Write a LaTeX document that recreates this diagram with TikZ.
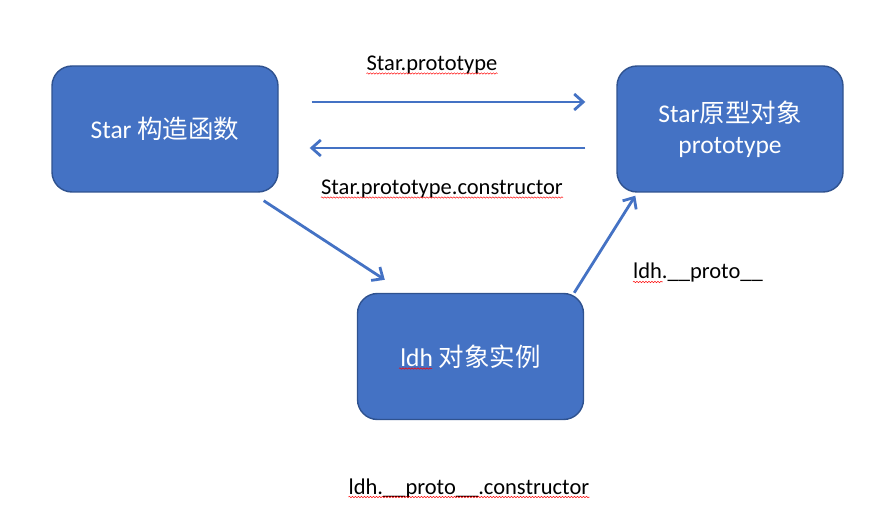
\documentclass[tikz,border=0pt]{standalone}
\usepackage{fontspec}
\setmainfont{Carlito}
\newfontfamily\cjk{Noto Sans CJK SC}
\usetikzlibrary{arrows.meta, positioning, decorations.pathmorphing}

\definecolor{boxblue}{HTML}{4472C4}
\definecolor{boxedge}{HTML}{2F528F}

\begin{document}
\begin{tikzpicture}[
        x=1pt, y=-1pt,
        box/.style={rectangle, rounded corners=20pt, fill=boxblue, draw=boxedge, line width=1.4pt,
            minimum width=226pt, minimum height=126pt, inner sep=0pt, text=white,
            font=\fontsize{25.5}{31}\selectfont, align=center},
        lbl/.style={font=\fontsize{22.5}{26}\selectfont, inner sep=0pt},
        link/.style={-{Straight Barb[length=9pt, width=16pt]}, draw=boxblue, line width=2.8pt},
        squiggle/.style={draw=red, line width=0.5pt, decorate,
            decoration={snake, amplitude=0.7pt, segment length=3pt}}
    ]

    \useasboundingbox (0,0) rectangle (877,518);

    \node[box] (star) at (165,129) {Star {\cjk 构造函数}};
    \node[box] (proto) at (730,129) {Star{\cjk 原型对象}\\prototype};
    \node[box] (inst) at (470.5,356.5) {ldh {\cjk 对象实例}};

    \node[lbl] (toproto) at (432,65) {Star.prototype};
    \node[lbl] (toctor) at (442,189) {Star.prototype.constructor};
    \node[lbl] (dunder) at (698,273) {ldh.\_\_proto\_\_};
    \node[lbl] (instctor) at (469,488) {ldh.\_\_proto\_\_.constructor};

    % arrows between the boxes
    \draw[link, shorten <=33pt, shorten >=31pt] ([yshift=27pt]star.east) -- ([yshift=27pt]proto.west);
    \draw[link, shorten <=31pt, shorten >=31pt] ([yshift=-19pt]proto.west) -- ([yshift=-19pt]star.east);
    \draw[link] ([xshift=-15pt, yshift=-8pt]star.south east) -- ([xshift=28pt, yshift=13pt]inst.north west);
    \draw[link] ([xshift=-10pt]inst.north east) -- ([xshift=19pt, yshift=-3pt]proto.south west);

    % spell check marks
    \draw[squiggle] ([yshift=-3pt]toproto.base west) -- ([yshift=-3pt]toproto.base east);
    \draw[squiggle] ([yshift=-3pt]toctor.base west) -- ([yshift=-3pt]toctor.base east);
    \draw[squiggle] ([yshift=-3pt]dunder.base west) -- ++(30,0);
    \draw[squiggle] ([yshift=-3pt]instctor.base west) -- ([yshift=-3pt]instctor.base east);
    \draw[squiggle] ([xshift=-71.5pt, yshift=-12pt]inst.center) -- ++(33,0);
\end{tikzpicture}
\end{document}
